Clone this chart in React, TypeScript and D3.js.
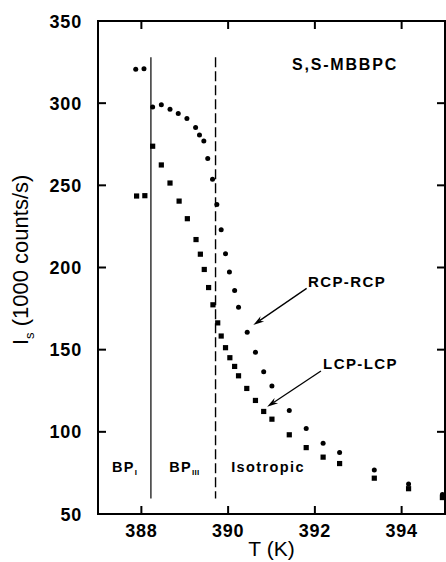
import React from "react";
import * as d3 from "d3";

const W = 446;
const H = 562;

const xTicks = [388, 390, 392, 394];
const yTicks = [50, 100, 150, 200, 250, 300, 350];

const rcpT = [387.87, 388.06, 388.26, 388.46, 388.66, 388.85, 389.05, 389.25, 389.34, 389.44, 389.53, 389.64, 389.74, 389.84, 389.94, 390.03, 390.15, 390.24, 390.44, 390.63, 390.82, 391.01, 391.41, 391.8, 392.19, 392.57, 393.37, 394.16, 394.94];
const rcpI = [320.7, 321, 297.7, 299, 296.3, 293.7, 290.7, 285.2, 280.7, 277, 266.3, 253.7, 238.4, 223, 208.3, 197.2, 186, 175.8, 160.6, 148.4, 136.6, 127.9, 113, 102, 93.1, 87.4, 76.7, 68.2, 61.8];

const lcpT = [387.89, 388.08, 388.26, 388.46, 388.66, 388.87, 389.06, 389.26, 389.36, 389.45, 389.55, 389.65, 389.76, 389.84, 389.94, 390.04, 390.15, 390.24, 390.43, 390.63, 390.82, 391.01, 391.41, 391.8, 392.19, 392.57, 393.37, 394.16, 394.94];
const lcpI = [243.5, 243.7, 273.8, 262.4, 251.4, 240.4, 229.7, 217.0, 208.1, 198.8, 187.8, 177.3, 166.3, 158.3, 151.2, 145.1, 139.8, 134.1, 126.4, 119.1, 112.4, 107.7, 98.2, 90.4, 84.6, 80.7, 71.8, 65.4, 60];

// phase boundaries
const solidT = 388.22;
const dashedT = 389.71;
const boundaryTop = 328;
const boundaryBottom = 59.5;

// annotations [T, I]
const rcpLabel = { text: "RCP-RCP", t: 391.84, i: 188.1, from: [391.81, 187.3], to: [390.58, 165] };
const lcpLabel = { text: "LCP-LCP", t: 392.19, i: 138.2, from: [392.14, 137], to: [390.9, 115.3] };

const phaseLabels = [
  { main: "BP", sub: "I", t: 387.32, i: 75.5 },
  { main: "BP", sub: "III", t: 388.64, i: 75.5 },
  { main: "Isotropic", sub: "", t: 390.07, i: 75.5 },
];

const FONT = "'Liberation Sans', Arial, Helvetica, sans-serif";

function Arrow({ x1, y1, x2, y2 }: { x1: number; y1: number; x2: number; y2: number }) {
  const ang = Math.atan2(y2 - y1, x2 - x1);
  const len = 11;
  const half = 3.2;
  const bx = x2 - len * Math.cos(ang);
  const by = y2 - len * Math.sin(ang);
  const px = -Math.sin(ang) * half;
  const py = Math.cos(ang) * half;
  const nx = x2 - (len * 0.7) * Math.cos(ang);
  const ny = y2 - (len * 0.7) * Math.sin(ang);
  return (
    <g>
      <line x1={x1} y1={y1} x2={nx} y2={ny} stroke="#000" strokeWidth={1.3} />
      <path d={`M${x2},${y2} L${bx + px},${by + py} L${nx},${ny} L${bx - px},${by - py} Z`} fill="#000" />
    </g>
  );
}

export default function App() {
  const left = 98, right = 445, top = 21, bottom = 514;
  const x = d3.scaleLinear().domain([387, 395]).range([left, right]);
  const y = d3.scaleLinear().domain([50, 350]).range([bottom, top]);
  const tickLen = 8;

  return (
    <svg width={W} height={H} style={{ position: "absolute", left: 0, top: 0, background: "#fff" }} fontFamily={FONT}>
      <rect x={0} y={0} width={W} height={H} fill="#fff" />
      {/* frame */}
      <rect x={left} y={top} width={right - left} height={bottom - top} fill="none" stroke="#000" strokeWidth={2} />
      {/* x ticks */}
      {xTicks.map((t) => (
        <g key={"x" + t}>
          <line x1={x(t)} x2={x(t)} y1={bottom} y2={bottom - tickLen} stroke="#000" strokeWidth={2} />
          <line x1={x(t)} x2={x(t)} y1={top} y2={top + tickLen} stroke="#000" strokeWidth={2} />
          <text x={x(t)} y={537} textAnchor="middle" fontSize={18} fontWeight="bold" letterSpacing={0.8}>{t}</text>
        </g>
      ))}
      {/* y ticks */}
      {yTicks.map((v) => (
        <g key={"y" + v}>
          <line x1={left} x2={left + tickLen} y1={y(v)} y2={y(v)} stroke="#000" strokeWidth={2} />
          <line x1={right} x2={right - tickLen} y1={y(v)} y2={y(v)} stroke="#000" strokeWidth={2} />
          <text x={82} y={y(v) + 6.5} textAnchor="end" fontSize={18} fontWeight="bold" letterSpacing={0.8}>{v}</text>
        </g>
      ))}
      {/* axis titles */}
      <text x={x(391)} y={556} textAnchor="middle" fontSize={21}>T (K)</text>
      <text transform={`translate(28,345) rotate(-90)`} fontSize={22}>
        I<tspan fontSize={13} dy={6}>s</tspan>
        <tspan dy={-6}>{" (1000 counts/s)"}</tspan>
      </text>
      {/* phase boundaries */}
      <line x1={x(solidT)} x2={x(solidT)} y1={y(boundaryTop)} y2={y(boundaryBottom)} stroke="#000" strokeWidth={1.2} />
      <line x1={x(dashedT)} x2={x(dashedT)} y1={y(boundaryTop)} y2={y(boundaryBottom)} stroke="#000" strokeWidth={1.4} strokeDasharray="10,4" />
      {/* data: circles */}
      {rcpT.map((t, k) => (
        <circle key={"c" + k} cx={x(t)} cy={y(rcpI[k])} r={2.5} fill="#000" />
      ))}
      {/* data: squares */}
      {lcpT.map((t, k) => (
        <rect key={"s" + k} x={x(t) - 2.6} y={y(lcpI[k]) - 2.6} width={5.2} height={5.2} fill="#000" />
      ))}
      {/* title */}
      <text x={292} y={70} fontSize={16} fontWeight="bold" letterSpacing={1.8}>S,S-MBBPC</text>
      {/* annotations */}
      {[rcpLabel, lcpLabel].map((a) => (
        <g key={a.text}>
          <text x={x(a.t)} y={y(a.i)} fontSize={15} fontWeight="bold" letterSpacing={1.4}>{a.text}</text>
          <Arrow x1={x(a.from[0])} y1={y(a.from[1])} x2={x(a.to[0])} y2={y(a.to[1])} />
        </g>
      ))}
      {phaseLabels.map((p) => (
        <text key={p.main + p.sub} x={x(p.t)} y={y(p.i)} fontSize={14.5} fontWeight="bold" letterSpacing={1.4}>
          {p.main}
          {p.sub && <tspan fontSize={8} dy={3} letterSpacing={0.3}>{p.sub}</tspan>}
        </text>
      ))}
    </svg>
  );
}
